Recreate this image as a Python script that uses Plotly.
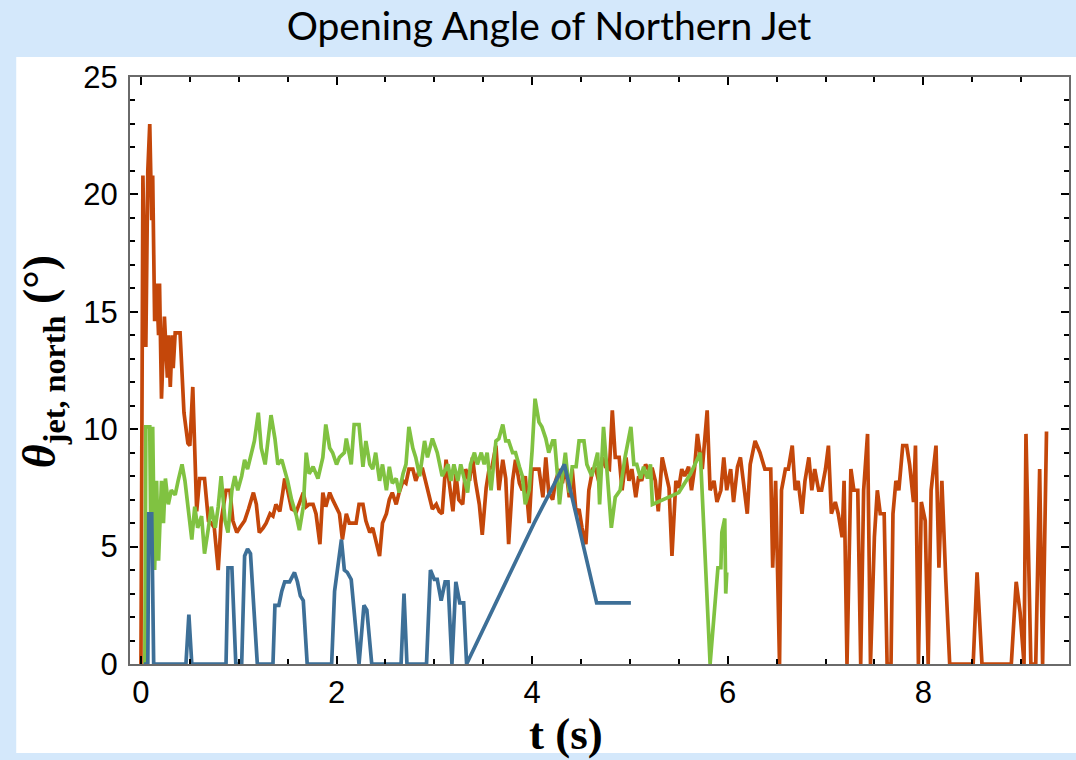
import plotly.graph_objects as go

# ---------------- data ----------------
orange_t = [
    0.00, 0.02, 0.05, 0.07, 0.09, 0.11, 0.12, 0.14, 0.16, 0.18, 0.19, 0.21, 0.24, 0.27, 0.28, 0.30, 0.32, 0.33, 0.35, 0.40, 0.44, 0.48, 0.50, 0.53, 0.57,
    0.60, 0.65, 0.69, 0.72, 0.75, 0.79, 0.82, 0.87, 0.91, 0.94,
    0.98, 1.01, 1.06, 1.10, 1.15, 1.18, 1.21, 1.25, 1.28, 1.32,
    1.35, 1.38, 1.42, 1.45, 1.47, 1.50, 1.54, 1.59, 1.62, 1.66,
    1.69, 1.72, 1.76, 1.79, 1.83, 1.86, 1.89, 1.93, 1.96, 2.00,
    2.03, 2.06, 2.10, 2.13, 2.17, 2.20, 2.23, 2.27, 2.30, 2.34,
    2.37, 2.40, 2.44, 2.47, 2.51, 2.54, 2.57, 2.61, 2.64, 2.68,
    2.71, 2.74, 2.78, 2.81, 2.85, 2.88, 2.91, 2.95, 2.98, 3.02,
    3.05, 3.08, 3.12,
    3.15, 3.19, 3.22, 3.25, 3.29, 3.32, 3.36, 3.39, 3.42, 3.46,
    3.49, 3.53, 3.56, 3.59, 3.63, 3.66, 3.70, 3.73, 3.76, 3.80,
    3.83, 3.87, 3.90, 3.93, 3.97, 4.00, 4.04, 4.07, 4.11, 4.14,
    4.17, 4.21, 4.24, 4.28, 4.31, 4.34, 4.38, 4.41, 4.45, 4.48,
    4.51, 4.55, 4.58, 4.62, 4.65, 4.68, 4.72, 4.75, 4.79, 4.82,
    4.85, 4.89, 4.92, 4.96, 4.99, 5.02, 5.06, 5.09, 5.12, 5.16,
    5.19, 5.23, 5.26, 5.29, 5.33, 5.36, 5.40, 5.43, 5.47, 5.50,
    5.53, 5.56, 5.60, 5.63, 5.66, 5.69, 5.72, 5.74, 5.79, 5.82,
    5.86, 5.89, 5.93, 5.96, 5.99, 6.03, 6.06, 6.10, 6.13, 6.16,
    6.20, 6.23, 6.28, 6.33, 6.38, 6.44, 6.46, 6.49, 6.53,
    6.55, 6.59, 6.62, 6.66, 6.69, 6.72, 6.76, 6.79, 6.83, 6.86,
    6.89, 6.93, 6.96, 7.00, 7.03, 7.06, 7.10, 7.13, 7.17, 7.19,
    7.22, 7.26, 7.29, 7.33, 7.36, 7.39, 7.43, 7.46, 7.50, 7.53,
    7.56, 7.60, 7.63, 7.67, 7.69, 7.72, 7.75, 7.79, 7.83, 7.86,
    7.90, 7.92, 7.95, 7.98, 8.02, 8.05, 8.08, 8.13, 8.16, 8.19,
    8.23, 8.27, 8.51, 8.55, 8.60, 8.90, 8.95, 8.99, 9.03, 9.05,
    9.10, 9.15, 9.19, 9.22, 9.26,
]
orange_v = [
    0, 20.8, 13.5, 21.0, 23.0, 18.9, 20.8, 14.6, 16.2, 14.0, 16.2, 11.3, 14.8, 12.2, 14.0, 11.8, 14.0, 12.6, 14.1, 14.1, 10.7, 9.4, 9.3, 11.8, 6.5,
    7.9, 7.9, 6.1, 6.0, 5.8, 4.0, 6.1, 7.4, 7.4, 6.1,
    5.6, 5.8, 6.1, 6.6, 7.3, 6.8, 5.6, 5.8, 6.0, 6.4,
    6.3, 6.8, 6.5, 7.3, 7.9, 7.4, 6.6, 6.5, 6.8, 7.3,
    6.7, 6.8, 6.8, 6.4, 5.1, 7.3, 6.7, 7.3, 7.0, 6.7,
    6.4, 5.3, 6.4, 6.0, 6.0, 6.0, 6.8, 6.8, 6.1, 5.6,
    5.8, 5.3, 4.6, 6.0, 6.4, 7.0, 7.3, 6.8, 7.3, 7.8,
    7.7, 8.3, 8.3, 7.8, 8.3, 8.3, 7.8, 7.1, 6.6, 6.8,
    6.5, 6.4, 8.7,
    7.8, 6.5, 8.1, 7.0, 6.8, 8.3, 7.8, 8.8, 7.8, 6.8,
    5.5, 7.5, 8.3, 8.4, 9.3, 7.4, 8.7, 7.9, 5.1, 7.8,
    8.7, 7.7, 7.4, 8.0, 6.0, 8.3, 8.3, 8.3, 7.1, 8.8,
    7.3, 7.0, 7.8, 8.3, 7.7, 8.5, 7.1, 8.3, 6.4, 6.6,
    5.8, 5.1, 7.4, 8.3, 8.3, 7.8, 8.8, 8.4, 8.3, 10.8,
    8.8, 8.8, 7.4, 8.8, 7.8, 8.3, 7.1, 8.0, 7.8, 8.5,
    8.3, 8.3, 7.8, 6.5, 8.8, 8.3, 7.5, 4.6, 7.8, 7.5,
    8.3, 8.0, 8.4, 7.4, 8.3, 9.8, 8.8, 8.3, 10.8, 7.4,
    7.8, 6.9, 7.4, 8.8, 7.4, 8.3, 6.9, 8.4, 8.8, 7.8,
    6.4, 8.5, 9.5, 9.0, 8.3, 8.3, 4.1, 7.8, 0,
    7.4, 8.3, 8.3, 9.3, 7.4, 7.8, 6.4, 7.8, 8.8, 7.4,
    8.3, 7.4, 7.4, 8.3, 9.3, 6.4, 6.9, 6.4, 5.4, 7.8,
    0, 8.3, 7.4, 7.4, 0, 7.4, 9.8, 0, 5.4, 7.4,
    6.4, 6.4, 0, 0, 6.4, 7.8, 7.4, 9.3, 9.3, 8.5,
    6.9, 9.3, 0, 6.9, 6.1, 0, 7.4, 9.3, 4.1, 7.8,
    3.6, 0, 0, 3.9, 0, 0, 3.5, 2.2, 0, 9.8,
    0, 0, 8.3, 0, 9.9,
]

green_t = [
    0.04, 0.05, 0.09, 0.10, 0.12, 0.14, 0.16, 0.18, 0.21, 0.23,
    0.25, 0.28, 0.31, 0.35, 0.38, 0.42, 0.45, 0.48, 0.52, 0.55,
    0.58, 0.62, 0.65, 0.69, 0.72, 0.76, 0.79, 0.82, 0.86, 0.89,
    0.93, 0.96, 0.99, 1.03, 1.06, 1.09, 1.13, 1.16, 1.20, 1.23,
    1.27,
    1.30, 1.33, 1.37, 1.40, 1.44, 1.47, 1.50, 1.54, 1.59, 1.62,
    1.66, 1.69, 1.72, 1.76, 1.81, 1.86, 1.89, 1.93, 1.96, 2.00,
    2.03, 2.08, 2.10, 2.15, 2.18, 2.23, 2.27, 2.30, 2.34, 2.37,
    2.40, 2.44, 2.47, 2.51, 2.54, 2.57, 2.61, 2.64, 2.68, 2.71,
    2.74, 2.78, 2.81, 2.85, 2.90, 2.93, 2.98, 3.03, 3.08,
    3.14, 3.17, 3.20, 3.24, 3.27, 3.31, 3.34, 3.37, 3.41, 3.44,
    3.48, 3.51, 3.54, 3.58, 3.63, 3.66, 3.70, 3.73, 3.76, 3.80,
    3.83, 3.87, 3.90, 3.93, 3.97, 4.00, 4.03, 4.07, 4.10, 4.14,
    4.17, 4.21, 4.23, 4.26, 4.28, 4.31, 4.34, 4.38, 4.41, 4.45,
    4.48, 4.53, 4.56, 4.61, 4.67, 4.69, 4.73, 4.77, 4.81, 4.85,
    4.90, 4.95, 5.01, 5.04, 5.07, 5.11, 5.14, 5.18, 5.21, 5.23,
    5.50, 5.62, 5.72, 5.82, 5.90, 5.93, 5.94, 5.97, 5.98, 5.99,
]
green_v = [
    0, 10.1, 10.1, 5.7, 10.1, 4.0, 7.8, 4.4, 7.8, 6.0,
    7.9, 6.8, 7.4, 7.2, 7.8, 8.5, 7.8, 6.7, 5.3, 6.7,
    5.8, 6.3, 4.7, 5.8, 6.7, 5.8, 6.7, 8.0, 6.1, 5.6,
    7.4, 8.0, 7.4, 8.0, 8.7, 8.3, 9.0, 9.5, 10.7, 9.2,
    8.5,
    9.5, 10.6, 9.6, 8.5, 8.7, 8.3, 7.8, 7.0, 6.3, 5.7,
    6.7, 9.0, 8.1, 8.4, 7.9, 8.8, 10.2, 9.2, 9.0, 8.5,
    8.8, 9.0, 9.6, 8.5, 10.2, 10.2, 8.4, 9.5, 8.5, 8.3,
    9.0, 7.8, 8.5, 7.4, 8.4, 7.7, 7.9, 7.3, 8.1, 8.5,
    10.1, 9.2, 8.8, 8.0, 9.5, 8.8, 9.6, 9.0, 8.0,
    8.5, 7.8, 8.5, 7.8, 8.5, 7.8, 7.3, 8.5, 9.0, 8.5,
    9.0, 8.5, 9.0, 7.4, 9.5, 9.6, 10.2, 9.5, 9.5, 9.0,
    9.0, 8.4, 8.0, 6.8, 7.4, 9.1, 11.3, 10.3, 10.1, 9.6,
    9.0, 9.5, 9.5, 8.0, 6.8, 8.0, 9.0, 7.3, 8.4, 8.4,
    9.5, 9.5, 8.5, 8.0, 9.0, 6.8, 10.1, 8.0, 5.8, 7.1,
    7.4, 8.8, 10.1, 8.5, 8.5, 7.9, 8.4, 7.9, 8.5, 6.8,
    7.3, 8.1, 9.0, 0, 4.1, 4.1, 5.6, 6.2, 3.0, 3.9,
]

blue_t = [
    0.03, 0.07, 0.08, 0.11, 0.13, 0.46, 0.49, 0.52, 0.87, 0.89,
    0.93, 0.97, 1.03, 1.06, 1.09, 1.12, 1.19, 1.35, 1.37, 1.41,
    1.44, 1.47, 1.52, 1.57, 1.60, 1.63, 1.66, 1.70, 1.95, 1.98,
    2.05, 2.08, 2.11, 2.15, 2.23, 2.28, 2.31, 2.36, 2.66, 2.69,
    2.72, 2.92, 2.96, 3.00, 3.03, 3.07, 3.11, 3.14, 3.18, 3.22,
    3.26, 3.30, 3.33, 4.02, 4.33, 4.66, 5.01,
]
blue_v = [
    0, 0, 6.4, 6.4, 0, 0, 2.1, 0, 0, 4.1,
    4.1, 0, 0, 4.6, 4.9, 4.7, 0, 0, 2.5, 2.5,
    3.1, 3.5, 3.5, 3.9, 3.5, 2.9, 2.7, 0, 0, 3.1,
    5.3, 4.0, 3.9, 3.6, 0, 2.5, 2.3, 0, 0, 3.0,
    0, 0, 4.0, 3.6, 3.6, 2.7, 3.5, 3.5, 0, 3.5,
    2.6, 2.6, 0, 6.0, 8.5, 2.6, 2.6,
]

x_ticks = [0, 2, 4, 6, 8]
y_ticks = [0, 5, 10, 15, 20, 25]

assert len(orange_t) == len(orange_v)
assert len(green_t) == len(green_v)
assert len(blue_t) == len(blue_v)

# ---------------- styles ----------------
ORANGE = "#c4470a"
GREEN = "#80c241"
BLUE = "#3d6f97"
BG = "#d4e8fb"

fig = go.Figure()
fig.add_trace(go.Scatter(x=orange_t, y=orange_v, mode="lines",
                         line=dict(color=ORANGE, width=3.7), showlegend=False))
fig.add_trace(go.Scatter(x=green_t, y=green_v, mode="lines",
                         line=dict(color=GREEN, width=3.7), showlegend=False))
fig.add_trace(go.Scatter(x=blue_t, y=blue_v, mode="lines",
                         line=dict(color=BLUE, width=3.7), showlegend=False))

W, H = 1076, 760
L, R, T, B = 130, 5, 77, 96
pw, ph = W - L - R, H - T - B


def px_x(p):
    return (p - L) / pw


def px_y(p):
    return (H - B - p) / ph


tick_font = dict(family="Liberation Sans, Arial, sans-serif", size=31, color="black")

fig.update_layout(
    width=W, height=H,
    margin=dict(l=L, r=R, t=T, b=B, pad=0),
    paper_bgcolor=BG,
    plot_bgcolor="white",
    title=dict(text="Opening Angle of Northern Jet",
               font=dict(family="Lato, Open Sans, sans-serif", size=39, color="black"),
               x=549 / W, xref="container", xanchor="center",
               y=1 - 26 / H, yref="container", yanchor="middle"),
    shapes=[dict(type="rect", xref="paper", yref="paper",
                 x0=px_x(16), x1=px_x(1080), y0=px_y(753), y1=px_y(57),
                 fillcolor="white", line=dict(width=0), layer="below")],
    xaxis=dict(range=[-0.112, 9.49], tickvals=x_ticks, ticks="inside", ticklen=8,
               tickwidth=2, tickcolor="black", showline=True, linecolor="#6a6a6a",
               linewidth=2, mirror="allticks", showgrid=False, zeroline=False,
               tickfont=tick_font, ticklabelstandoff=0,
               minor=dict(dtick=0.5, tick0=0, ticks="inside", ticklen=5,
                          tickwidth=1.5, tickcolor="black", showgrid=False)),
    yaxis=dict(range=[0, 25], tickvals=y_ticks, ticks="inside", ticklen=8,
               tickwidth=2, tickcolor="black", showline=True, linecolor="#6a6a6a",
               linewidth=2, mirror="allticks", showgrid=False, zeroline=False,
               tickfont=tick_font, ticklabelstandoff=4,
               minor=dict(dtick=1, tick0=0, ticks="inside", ticklen=5,
                          tickwidth=1.5, tickcolor="black", showgrid=False)),
    annotations=[
        dict(text="<b>t (s)</b>", xref="paper", yref="paper",
             x=px_x(567), y=px_y(734), xanchor="center", yanchor="middle",
             showarrow=False,
             font=dict(family="Liberation Serif, Times New Roman, serif", size=45, color="black")),
        dict(text="<b><i>θ</i><sub>jet, north</sub> (°)</b>", xref="paper", yref="paper",
             x=px_x(43), y=px_y(362), xanchor="center", yanchor="middle",
             textangle=-90, showarrow=False,
             font=dict(family="Liberation Serif, Times New Roman, serif", size=46, color="black")),
    ],
)

fig.write_html("out.html", config={"displayModeBar": False},
               post_script="document.body.style.margin='0';document.body.style.padding='0';")
